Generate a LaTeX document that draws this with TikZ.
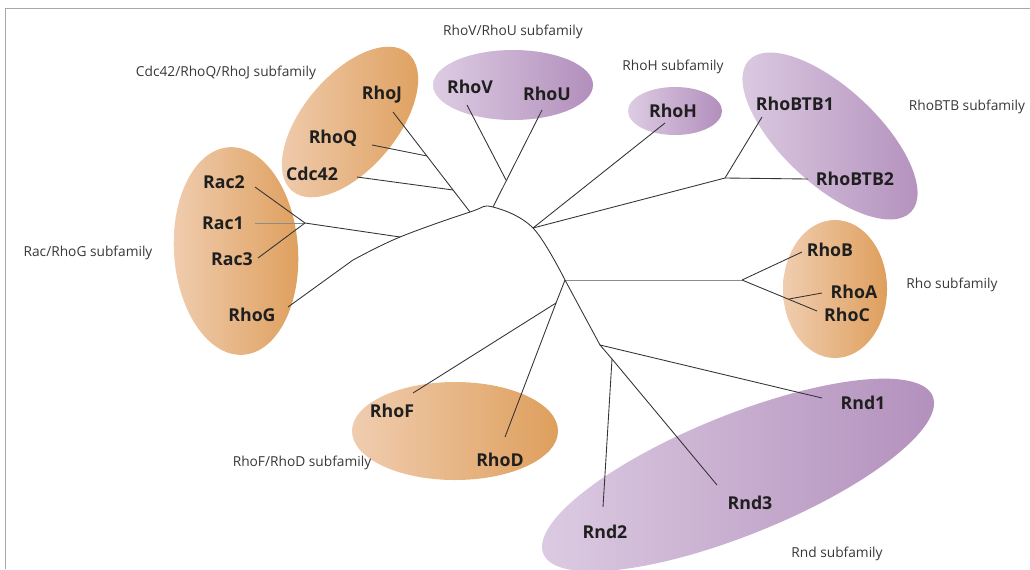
\documentclass[tikz,border=0pt]{standalone}
\usepackage{fontspec}
\setmainfont{Open Sans}
\usepackage{tikz}
\usetikzlibrary{calc}
\definecolor{peachL}{HTML}{F0CDB0}
\definecolor{peachD}{HTML}{DE9F5C}
\definecolor{lilacL}{HTML}{DDCCE3}
\definecolor{lilacD}{HTML}{B28FBC}
\definecolor{rim}{HTML}{A8A8A8}
\newcommand{\genefont}{\fontsize{13.3}{15}\selectfont\bfseries}
\newcommand{\famfont}{\fontsize{10.3}{12}\selectfont}

\begin{document}
\begin{tikzpicture}[x=0.75pt,y=-0.75pt,
    gene/.style={font=\genefont,text=black!88,inner sep=2pt},
    fam/.style={font=\famfont,text=black!78},
    branch/.style={draw=black!80,line width=0.65pt},
    faint/.style={draw=black!45,line width=0.65pt},
    peach/.style={left color=peachL,right color=peachD},
    lilac/.style={left color=lilacL,right color=lilacD}]
    \useasboundingbox (0,0) rectangle (1030,569);
    \clip (0,0) rectangle (1030,569);
    \draw[rim,line width=1.2pt] (5.5,569) -- (5.5,8.5) -- (1030,8.5);

    \shade[peach,rotate around={50:(350,122)}] (350,122) ellipse [x radius=90,y radius=47];
    \shade[peach,rotate around={4:(236,251)}] (236,251) ellipse [x radius=62,y radius=104];
    \shade[lilac] (513,85) ellipse [x radius=80,y radius=35];
    \shade[lilac] (675,111) ellipse [x radius=47,y radius=24];
    \shade[lilac,rotate around={-43:(830,136)}] (830,136) ellipse [x radius=111,y radius=48];
    \shade[peach] (835,289) ellipse [x radius=52,y radius=69];
    \shade[peach] (455,431) ellipse [x radius=103,y radius=49];
    \shade[lilac,rotate around={22:(738,475)}] (738,475) ellipse [x radius=210,y radius=60];

    \node[fam] (famvu) at (513,32) {RhoV/RhoU subfamily};
    \node[fam] (famcdc) at (226,73) {Cdc42/RhoQ/RhoJ subfamily};
    \node[fam] (famh) at (673,67) {RhoH subfamily};
    \node[fam] (fambtb) at (967,107) {RhoBTB subfamily};
    \node[fam] (famrac) at (88,253) {Rac/RhoG subfamily};
    \node[fam] (famrho) at (952,285) {Rho subfamily};
    \node[fam] (famfd) at (302,463) {RhoF/RhoD subfamily};
    \node[fam] (famrnd) at (837,554) {Rnd subfamily};

    \node[gene] (rhoj) at (382,95) {RhoJ};
    \node[gene] (rhoq) at (333,138) {RhoQ};
    \node[gene] (cdc42) at (312,174) {Cdc42};
    \node[gene] (rac2) at (224,182) {Rac2};
    \node[gene] (rac1) at (223,223) {Rac1};
    \node[gene] (rac3) at (232,259) {Rac3};
    \node[gene] (rhog) at (252,315) {RhoG};
    \node[gene] (rhov) at (470,87) {RhoV};
    \node[gene] (rhou) at (547,94) {RhoU};
    \node[gene] (rhoh) at (673,111) {RhoH};
    \node[gene] (rhobtb1) at (795,104) {RhoBTB1};
    \node[gene] (rhobtb2) at (855,179) {RhoBTB2};
    \node[gene] (rhob) at (830,250) {RhoB};
    \node[gene] (rhoa) at (854,292) {RhoA};
    \node[gene] (rhoc) at (847,315) {RhoC};
    \node[gene] (rhof) at (392,411) {RhoF};
    \node[gene] (rhod) at (500,460) {RhoD};
    \node[gene] (rnd1) at (863,403) {Rnd1};
    \node[gene] (rnd2) at (605,532) {Rnd2};
    \node[gene] (rnd3) at (750,503) {Rnd3};

    \coordinate (kink) at (353,260);
    \coordinate (jrac) at (400,237);
    \coordinate (jrac2) at (305,223);
    \coordinate (jcdc) at (470,212);
    \coordinate (jq) at (427,156);
    \coordinate (jc) at (453,190);
    \coordinate (ju) at (493,207);
    \coordinate (jv) at (506,180);
    \coordinate (jh) at (533,228);
    \coordinate (jbtb) at (725,178);
    \coordinate (jrho) at (565,280);
    \coordinate (jrhoc) at (742,280);
    \coordinate (ja) at (789,299);
    \coordinate (jfd) at (556,303);
    \coordinate (jrnd) at (600,345);
    \coordinate (jrnd2) at (612,359);

    \draw[branch] ($(rhog)+(36,-8)$) -- (kink);
    \draw[branch] plot[smooth,tension=0.6] coordinates {(kink) (jrac) (jcdc) (ju) (jh) (jrho)};
    \draw[branch] (jrac) -- (jrac2) -- ($(rac2)+(31,5)$);
    \draw[faint] (jrac2) -- ($(rac1)+(32,0)$);
    \draw[branch] (jrac2) -- ($(rac3)+(26,-1)$);
    \draw[branch] (jcdc) -- ($(rhoj)+(11,17)$);
    \draw[branch] (jq) -- ($(rhoq)+(39,7)$);
    \draw[branch] (jc) -- ($(cdc42)+(45,3)$);
    \draw[branch] (ju) -- ($(rhou)+(-5,16)$);
    \draw[branch] (jv) -- ($(rhov)+(-3,18)$);
    \draw[branch] (jh) -- ($(rhoh)+(-8,12)$);
    \draw[branch] (jh) -- (jbtb) -- ($(rhobtb1)+(-33,13)$);
    \draw[branch] (jbtb) -- ($(rhobtb2)+(-47,0)$);
    \draw[faint] (jrho) -- (jrhoc);
    \draw[branch] (jrhoc) -- ($(rhob)+(-28,2)$);
    \draw[branch] (jrhoc) -- ($(rhoc)+(-30,-4)$);
    \draw[branch] (ja) -- ($(rhoa)+(-32,1)$);
    \draw[branch] (jrho) -- (jfd) -- ($(rhof)+(21,-18)$);
    \draw[branch] (jfd) -- ($(rhod)+(5,-23)$);
    \draw[branch] (jrho) -- (jrnd) -- ($(rnd1)+(-41,-5)$);
    \draw[branch] (jrnd) -- (jrnd2) -- ($(rnd3)+(-33,-18)$);
    \draw[branch] (jrnd2) -- ($(rnd2)+(-2,-25)$);
\end{tikzpicture}
\end{document}
